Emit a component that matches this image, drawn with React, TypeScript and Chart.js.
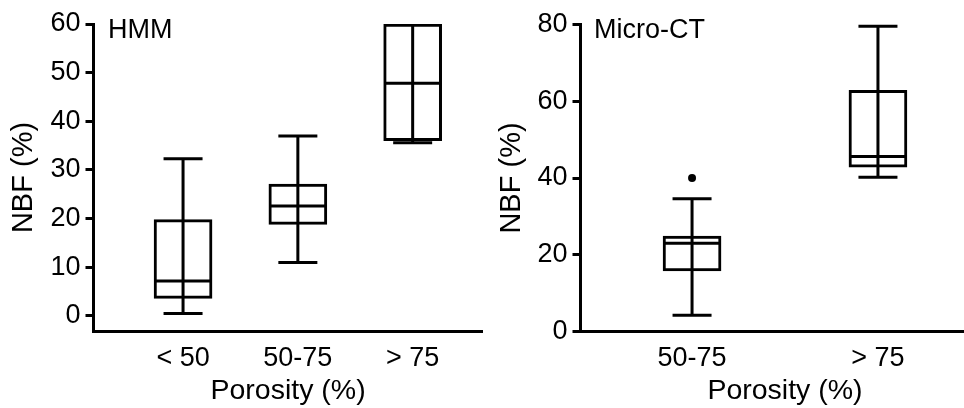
import React, { useEffect, useRef } from "react";
import { Chart, registerables } from "chart.js";

Chart.register(...registerables);

// ---------- data: HMM panel ----------
const hmmCategories = ["< 50", "50-75", "> 75"];
const hmmMin = [0.5, 11.0, 35.6];
const hmmQ1 = [3.6, 18.8, 36.0];
const hmmMedian = [7.2, 22.6, 47.8];
const hmmQ3 = [19.8, 27.1, 60.0];
const hmmMax = [32.3, 37.0, 60.0];
const hmmYTicks = [0, 10, 20, 30, 40, 50, 60];

// ---------- data: Micro-CT panel ----------
const ctCategories = ["50-75", "> 75"];
const ctMin = [4.3, 40.2];
const ctQ1 = [15.8, 42.8];
const ctMedian = [23.0, 45.6];
const ctQ3 = [24.9, 62.8];
const ctMax = [34.6, 79.5];
const ctOutlierCategory = [0];
const ctOutlierValue = [40.0];
const ctYTicks = [0, 20, 40, 60, 80];

const FONT = '"Liberation Sans", Arial, Helvetica, sans-serif';
Chart.defaults.font.family = FONT;
Chart.defaults.color = "#000";

type Panel = {
  label: string;
  categories: string[];
  mins: number[];
  q1: number[];
  medians: number[];
  q3: number[];
  maxs: number[];
  yTicks: number[];
  outlierCat: number[];
  outlierVal: number[];
  yMin: number;
  yMax: number;
  xMin: number;
  xMax: number;
  padTop: number;
  padRight: number;
  yAxisWidth: number;
  xAxisHeight: number;
  yTitlePad: number;
  xTickPad: number;
  labelX: number;
  labelY: number;
};

function makeBoxPlugin(p: Panel) {
  return {
    id: "boxWhiskers",
    afterDatasetsDraw(chart: any) {
      const { ctx, scales } = chart;
      const xs = scales.x;
      const ys = scales.y;
      const capHalf = 19.5;
      const boxHalf = 28;
      ctx.save();
      ctx.strokeStyle = "#000";
      ctx.lineWidth = 3;
      ctx.lineCap = "butt";
      p.mins.forEach((mn, i) => {
        const px = xs.getPixelForValue(i);
        const yLo = ys.getPixelForValue(mn);
        const yHi = ys.getPixelForValue(p.maxs[i]);
        const yMed = ys.getPixelForValue(p.medians[i]);
        ctx.beginPath();
        ctx.moveTo(px, yLo);
        ctx.lineTo(px, yHi);
        ctx.moveTo(px - capHalf, yLo);
        ctx.lineTo(px + capHalf, yLo);
        if (p.maxs[i] > p.q3[i]) {
          ctx.moveTo(px - capHalf, yHi);
          ctx.lineTo(px + capHalf, yHi);
        }
        ctx.moveTo(px - boxHalf, yMed);
        ctx.lineTo(px + boxHalf, yMed);
        ctx.stroke();
      });
      ctx.restore();
    },
    afterDraw(chart: any) {
      const { ctx } = chart;
      ctx.save();
      ctx.fillStyle = "#000";
      ctx.font = `27px ${FONT}`;
      ctx.textAlign = "left";
      ctx.textBaseline = "alphabetic";
      ctx.fillText(p.label, p.labelX, p.labelY);
      ctx.restore();
    },
  };
}

function buildConfig(p: Panel): any {
  return {
    type: "bar",
    data: {
      datasets: [
        {
          type: "bar",
          data: p.categories.map((_, i) => ({ x: i, y: [p.q1[i], p.q3[i]] })),
          backgroundColor: "#fff",
          borderColor: "#000",
          borderWidth: 3,
          borderSkipped: false,
          barThickness: 58,
        },
        {
          type: "scatter",
          data: p.outlierCat.map((c, i) => ({ x: c, y: p.outlierVal[i] })),
          pointRadius: 4,
          pointBackgroundColor: "#000",
          pointBorderWidth: 0,
          showLine: false,
        },
      ],
    },
    options: {
      animation: false,
      responsive: true,
      maintainAspectRatio: false,
      layout: { padding: { top: p.padTop, right: p.padRight, bottom: 0, left: 0 } },
      plugins: { legend: { display: false }, tooltip: { enabled: false } },
      scales: {
        x: {
          type: "linear",
          min: p.xMin,
          max: p.xMax,
          offset: false,
          grid: { display: false, offset: false },
          border: { display: true, color: "#000", width: 3 },
          ticks: {
            color: "#000",
            font: { size: 27 },
            padding: p.xTickPad,
            autoSkip: false,
            maxRotation: 0,
            callback: (v: number) => p.categories[Math.round(v)] ?? "",
          },
          afterBuildTicks: (s: any) => {
            s.ticks = p.categories.map((_, i) => ({ value: i }));
          },
          afterFit: (s: any) => {
            s.height = p.xAxisHeight;
          },
          title: {
            display: true,
            text: "Porosity (%)",
            color: "#000",
            font: { size: 28.5 },
            padding: { top: 0, bottom: 0 },
          },
        },
        y: {
          type: "linear",
          min: p.yMin,
          max: p.yMax,
          grid: {
            display: true,
            drawOnChartArea: false,
            drawTicks: true,
            tickLength: 8,
            color: "#000",
            lineWidth: 3,
          },
          border: { display: true, color: "#000", width: 3 },
          ticks: { color: "#000", font: { size: 27 }, padding: 5 },
          afterBuildTicks: (s: any) => {
            s.ticks = p.yTicks.map((v) => ({ value: v }));
          },
          afterFit: (s: any) => {
            s.width = p.yAxisWidth;
          },
          title: {
            display: true,
            text: "NBF (%)",
            color: "#000",
            font: { size: 29 },
            padding: { top: p.yTitlePad, bottom: 0 },
          },
        },
      },
    },
    plugins: [makeBoxPlugin(p)],
  };
}

const hmmPanel: Panel = {
  label: "HMM",
  categories: hmmCategories,
  mins: hmmMin,
  q1: hmmQ1,
  medians: hmmMedian,
  q3: hmmQ3,
  maxs: hmmMax,
  yTicks: hmmYTicks,
  outlierCat: [],
  outlierVal: [],
  yMin: -3.1,
  yMax: 60,
  xMin: -0.78,
  xMax: 2.61,
  padTop: 24,
  padRight: 7.3,
  yAxisWidth: 93.5,
  xAxisHeight: 77,
  yTitlePad: 6.2,
  xTickPad: 3.8,
  labelX: 108,
  labelY: 38,
};

const ctPanel: Panel = {
  label: "Micro-CT",
  categories: ctCategories,
  mins: ctMin,
  q1: ctQ1,
  medians: ctMedian,
  q3: ctQ3,
  maxs: ctMax,
  yTicks: ctYTicks,
  outlierCat: ctOutlierCategory,
  outlierVal: ctOutlierValue,
  yMin: 0,
  yMax: 80,
  xMin: -0.6,
  xMax: 1.6,
  padTop: 24.3,
  padRight: 10.5,
  yAxisWidth: 90.5,
  xAxisHeight: 76.3,
  yTitlePad: 4.7,
  xTickPad: 3.1,
  labelX: 104,
  labelY: 37.5,
};

function BoxChart({ panel, left, width }: { panel: Panel; left: number; width: number }) {
  const ref = useRef<HTMLCanvasElement | null>(null);
  useEffect(() => {
    if (!ref.current) return;
    const chart = new Chart(ref.current, buildConfig(panel));
    return () => chart.destroy();
  }, [panel]);
  return (
    <div style={{ position: "absolute", left, top: 0, width, height: 408 }}>
      <canvas ref={ref} />
    </div>
  );
}

export default function App() {
  return (
    <div
      style={{
        position: "absolute",
        left: 0,
        top: 0,
        width: 964,
        height: 408,
        overflow: "hidden",
        background: "#fff",
      }}
    >
      <BoxChart panel={hmmPanel} left={0} width={490} />
      <BoxChart panel={ctPanel} left={490} width={510} />
    </div>
  );
}
